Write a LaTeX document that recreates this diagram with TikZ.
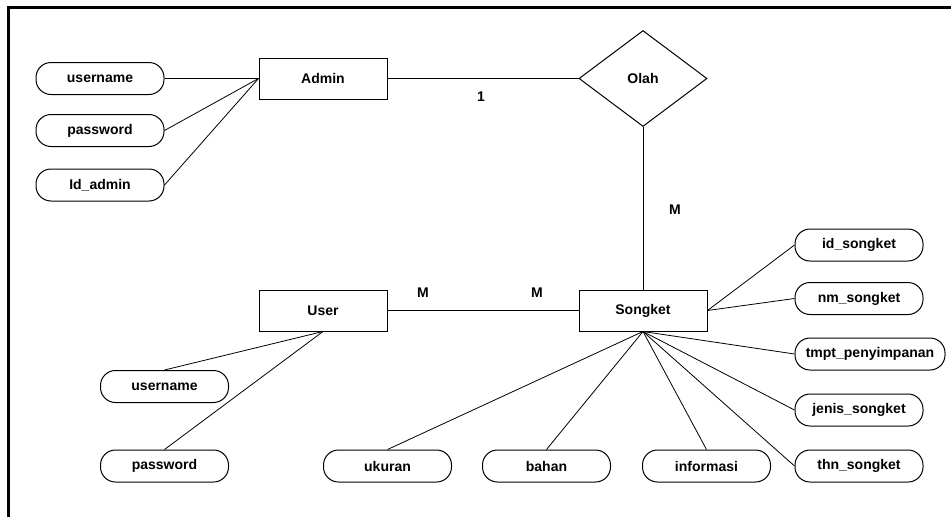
\documentclass[tikz,border=0pt]{standalone}
\usepackage{fontspec}
\setmainfont{Liberation Sans}
\usetikzlibrary{shapes.geometric, positioning, calc}

\begin{document}
\begin{tikzpicture}[
    x=1pt, y=-1pt,
    entity/.style={rectangle, draw=black, line width=1pt, minimum width=128pt, minimum height=41pt, font=\bfseries\fontsize{14}{16}\selectfont},
    attr/.style={rectangle, draw=black, line width=1pt, rounded corners=15pt, minimum width=128pt, minimum height=32pt, inner sep=2pt, font=\bfseries\fontsize{14}{16}\selectfont},
    relation/.style={diamond, draw=black, line width=1pt, minimum width=128pt, minimum height=96pt, inner sep=1pt, font=\bfseries\fontsize{14}{16}\selectfont},
    link/.style={line width=0.8pt},
    card/.style={font=\bfseries\fontsize{14}{16}\selectfont, inner sep=0pt},
    frame/.style={line width=3pt}
]
    \useasboundingbox (0,0) rectangle (951,517);

    % ========== FRAME ==========
    \draw[frame] (8.5,517) -- (8.5,7.5) -- (951,7.5);

    % ========== ENTITIES ==========
    \node[entity] (admin) at (323, 78.5) {Admin};
    \node[entity] (user) at (323, 310.5) {User};
    \node[entity] (songket) at (643, 310.5) {Songket};

    % Relation
    \node[relation] (olah) at (643, 78.5) {Olah};

    % ========== ADMIN ATTRIBUTES ==========
    \node[attr] (adm_user) at (100, 78.5) {username};
    \node[attr] (adm_pass) at (100, 130.5) {password};
    \node[attr] (adm_id) at (100, 185) {Id\_admin};

    \draw[link] (adm_user.east) -- (admin.west);
    \draw[link] (adm_pass.east) -- (admin.west);
    \draw[link] (adm_id.east) -- (admin.west);

    % ========== USER ATTRIBUTES ==========
    \node[attr] (usr_user) at (164.5, 386.5) {username};
    \node[attr] (usr_pass) at (164.5, 466) {password};

    \draw[link] (user.south) -- (usr_user.north);
    \draw[link] (user.south) -- (usr_pass.north);

    % ========== SONGKET ATTRIBUTES ==========
    \node[attr] (sk_id) at (859, 245) {id\_songket};
    \node[attr] (sk_nm) at (859, 298.5) {nm\_songket};
    \node[attr, minimum width=150pt] (sk_tmpt) at (870, 354) {tmpt\_penyimpanan};
    \node[attr] (sk_jenis) at (859, 410) {jenis\_songket};
    \node[attr] (sk_thn) at (859, 466) {thn\_songket};
    \node[attr] (sk_ukuran) at (387.5, 466) {ukuran};
    \node[attr] (sk_bahan) at (546.5, 466) {bahan};
    \node[attr] (sk_info) at (706.5, 466) {informasi};

    \draw[link] (songket.east) -- (sk_id.west);
    \draw[link] (songket.east) -- (sk_nm.west);
    \draw[link] (songket.south) -- (sk_tmpt.west);
    \draw[link] (songket.south) -- (sk_jenis.west);
    \draw[link] (songket.south) -- (sk_thn.west);
    \draw[link] (songket.south) -- (sk_ukuran.north);
    \draw[link] (songket.south) -- (sk_bahan.north);
    \draw[link] (songket.south) -- (sk_info.north);

    % ========== RELATIONSHIPS ==========
    \draw[link] (admin.east) -- (olah.west);
    \draw[link] (olah.south) -- (songket.north);
    \draw[link] (user.east) -- (songket.west);

    % Cardinalities
    \node[card] (c_admin) at (481, 97) {1};
    \node[card] (c_olah) at (675, 210) {M};
    \node[card] (c_user) at (423, 293) {M};
    \node[card] (c_songket) at (537, 293) {M};

\end{tikzpicture}
\end{document}
